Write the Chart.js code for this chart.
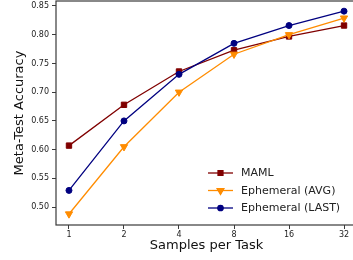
<!DOCTYPE html>
<html>
<head>
<meta charset="utf-8">
<script src="https://cdn.jsdelivr.net/npm/chart.js@4.4.0/dist/chart.umd.min.js"></script>
<style>
  html, body { margin: 0; padding: 0; background: #fff; overflow: hidden; }
  #wrap { width: 353px; height: 260px; overflow: hidden; }
  canvas { display: block; }
</style>
</head>
<body>
<div id="wrap"><canvas id="myChart" width="360" height="260" style="width:360px;height:260px"></canvas></div>
<script>
// datos

const samples = ['1', '2', '4', '8', '16', '32'];

const maml = [0.607, 0.678, 0.736, 0.773, 0.797, 0.816];
const ephAvg = [0.488, 0.605, 0.700, 0.766, 0.800, 0.829];
const ephLast = [0.529, 0.650, 0.731, 0.785, 0.816, 0.841];

const yTicks = [0.50, 0.55, 0.60, 0.65, 0.70, 0.75, 0.80, 0.85];

const names = ['MAML', 'Ephemeral (AVG)', 'Ephemeral (LAST)'];

function puntos(serie) {
   return serie.map(function (v, i) { return { x: i, y: v }; });
}

const data = {
   datasets: [{
      label: names[0],
      data: puntos(maml),
      borderColor: '#800000',
      backgroundColor: '#800000',
      pointStyle: 'rect',
      pointRadius: 3.8,
      order: 3
   }, {
      label: names[1],
      data: puntos(ephAvg),
      borderColor: '#ff8c00',
      backgroundColor: '#ff8c00',
      pointStyle: 'triangle',
      pointRotation: 180,
      pointRadius: 4.2,
      order: 2
   }, {
      label: names[2],
      data: puntos(ephLast),
      borderColor: '#000080',
      backgroundColor: '#000080',
      pointStyle: 'circle',
      pointRadius: 3,
      order: 1
   }]
};

// marco y leyenda dentro del area
const marco = {
   id: 'marco',
   afterDatasetsDraw(chart) {
      const a = chart.chartArea;
      const ctx = chart.ctx;
      ctx.save();
      ctx.strokeStyle = '#3a3a3a';
      ctx.lineWidth = 1.2;
      ctx.strokeRect(a.left, a.top, a.right - a.left, a.bottom - a.top);

      ctx.font = '11px "DejaVu Sans"';
      ctx.textBaseline = 'middle';
      chart.data.datasets.forEach(function (ds, i) {
         const y = a.bottom - 52 + i * 17.5;
         const x0 = a.right - 149;
         ctx.strokeStyle = ds.borderColor;
         ctx.lineWidth = 1.3;
         ctx.beginPath();
         ctx.moveTo(x0, y);
         ctx.lineTo(x0 + 25, y);
         ctx.stroke();
         Chart.helpers.drawPoint(ctx, {
            pointStyle: ds.pointStyle,
            rotation: ds.pointRotation || 0,
            radius: ds.pointRadius - 0.3,
            borderWidth: 1
         }, x0 + 12.5, y);
         ctx.fillStyle = ds.borderColor;
         ctx.fill();
         ctx.fillStyle = '#222';
         ctx.fillText(ds.label, x0 + 33, y + 0.5);
      });
      ctx.restore();
   }
};

const config = {
   type: 'line',
   data: data,
   options: {
      responsive: false,
      animation: false,
      layout: { autoPadding: false, padding: { top: 1, right: 3, left: 0, bottom: 0 } },
      plugins: {
         legend: { display: false },
         tooltip: { enabled: false }
      },
      elements: {
         line: { borderWidth: 1.3, tension: 0 },
         point: { borderWidth: 1 }
      },
      scales: {
         x: {
            type: 'linear',
            min: -0.236,
            max: 5.236,
            afterFit: function (s) { s.height = 35; s.paddingLeft = 0; s.paddingRight = 0; },
            afterBuildTicks: function (s) {
               s.ticks = samples.map(function (l, i) { return { value: i }; });
            },
            ticks: {
               font: { family: 'DejaVu Sans', size: 8 },
               color: '#222',
               padding: 1,
               maxRotation: 0,
               callback: function (v) { return samples[v]; }
            },
            grid: { drawOnChartArea: false, tickLength: 4, color: '#3a3a3a', tickWidth: 1 },
            border: { display: false },
            title: {
               display: true,
               text: 'Samples per Task',
               font: { family: 'DejaVu Sans', size: 13 },
               color: '#111',
               padding: { top: 0, bottom: 7 }
            }
         },
         y: {
            min: 0.4688,
            max: 0.8587,
            afterFit: function (s) { s.width = 56; s.paddingTop = 0; s.paddingBottom = 0; },
            afterBuildTicks: function (s) {
               s.ticks = yTicks.map(function (v) { return { value: v }; });
            },
            ticks: {
               font: { family: 'DejaVu Sans', size: 8 },
               color: '#222',
               padding: 3,
               callback: function (v) { return v.toFixed(2); }
            },
            grid: { drawOnChartArea: false, tickLength: 4, color: '#3a3a3a', tickWidth: 1 },
            border: { display: false },
            title: {
               display: true,
               text: 'Meta-Test Accuracy',
               font: { family: 'DejaVu Sans', size: 13 },
               color: '#111',
               padding: { top: 12, bottom: 0 }
            }
         }
      }
   },
   plugins: [marco]
};

const myChart = new Chart(document.getElementById('myChart'), config);
</script>
</body>
</html>
